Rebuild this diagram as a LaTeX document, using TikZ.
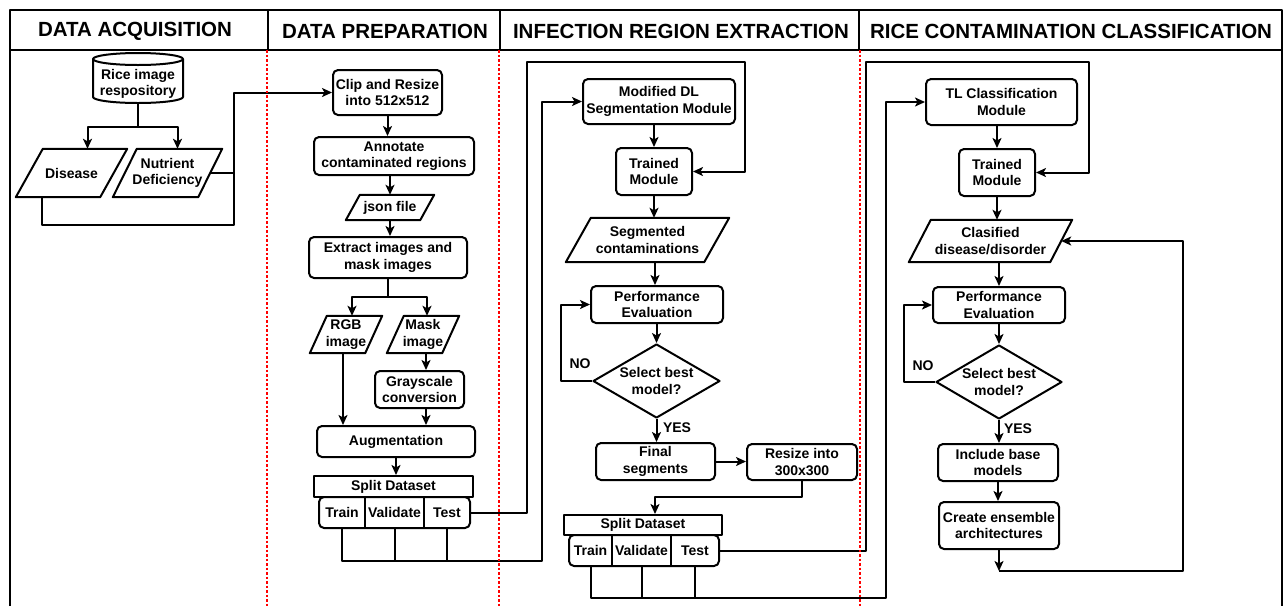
\documentclass[tikz,border=0pt]{standalone}
\usepackage{fontspec}
\setmainfont{Liberation Sans}
\usetikzlibrary{arrows.meta,shapes.geometric}
\tikzset{
 ln/.style={line width=2pt, line join=round},
 arr/.style={ln, -{Stealth[length=10pt,width=9pt,inset=2.5pt]}},
 txt/.style={font=\bfseries\fontsize{14}{16.5}\selectfont, align=center, inner sep=0pt},
 rbox/.style 2 args={txt, draw, ln, rounded corners=5pt, minimum width=#1, minimum height=#2},
 sbox/.style 2 args={txt, draw, ln, minimum width=#1, minimum height=#2},
 pbox/.style 2 args={txt, minimum width=#1, minimum height=#2},
 dbox/.style 2 args={txt, draw, ln, diamond, aspect=1.7, inner sep=-3pt, minimum width=#1, minimum height=#2},
 hdr/.style={font=\bfseries\fontsize{20.5}{24}\selectfont, inner sep=0pt},
 sepline/.style={red, line width=2.5pt, dash pattern=on 2.5pt off 2pt},
}
\newcommand\slantbox[2]{\draw[ln] ([xshift=#2pt]#1.north west) -- (#1.north east) -- ([xshift=-#2pt]#1.south east) -- (#1.south west) -- cycle;}
\begin{document}
\begin{tikzpicture}[x=1pt,y=-1pt]
\useasboundingbox (0,0) rectangle (1285,606);
% frame
\draw[ln] (10,606) -- (10,10) -- (1282,10) -- (1282,606);
\draw[ln] (10,50) -- (1282,50);
\draw[ln] (268,10) -- (268,50);
\draw[ln] (500,10) -- (500,50);
\draw[ln] (859,10) -- (859,50);
% headers
\node[hdr] (h1) at (135,31) {DATA ACQUISITION};
\node[hdr] (h2) at (385,31) {DATA PREPARATION};
\node[hdr] (h3) at (681,31) {INFECTION REGION EXTRACTION};
\node[hdr] (h4) at (1071,31) {RICE CONTAMINATION CLASSIFICATION};
% ---- Data acquisition
\node[pbox={90}{36}] (repo) at (138,84) {Rice image\\respository};
\draw[ln] (138,59) ellipse[x radius=45pt, y radius=6pt];
\draw[ln] (93,59) -- (93,97) arc[start angle=180, end angle=360, x radius=45pt, y radius=6pt] -- (183,59);
\coordinate (br1) at (138,127);
\node[pbox={111}{48}] (dis) at (71.5,173) {Disease};
\node[pbox={109}{48}] (nut) at (167.5,173) {Nutrient\\Deficiency};
\slantbox{dis}{27}
\slantbox{nut}{24}
\coordinate (j1) at (234,225);
% ---- Data preparation
\node[rbox={109}{45}] (clip) at (387.5,92.5) {Clip and Resize\\into 512x512};
\node[rbox={160}{38}] (anno) at (394,156) {Annotate\\contaminated regions};
\node[pbox={88}{25}] (json) at (390,207.5) {json file};
\slantbox{json}{14}
\node[rbox={158}{41}] (extr) at (388,257.5) {Extract images and\\mask images};
\coordinate (br2) at (388,297);
\node[pbox={72}{37}] (rgb) at (346,334.5) {RGB\\image};
\slantbox{rgb}{17}
\node[pbox={72}{37}] (mask) at (423,334.5) {Mask\\image};
\slantbox{mask}{17}
\node[rbox={89}{37}] (gray) at (419.5,389.5) {Grayscale\\conversion};
\node[rbox={158}{31}] (aug) at (396,441.5) {Augmentation};
\node[sbox={159}{21}] (sp1) at (393.5,486.5) {Split Dataset};
\node[rbox={151}{31}] (tvt1) at (394.5,512.5) {};
\node[pbox={46}{31}] (tr1) at (342,512.5) {Train};
\node[pbox={59}{31}] (va1) at (394.5,512.5) {Validate};
\node[pbox={46}{31}] (te1) at (447,512.5) {Test};
\draw[ln] (tr1.north east) -- (tr1.south east);
\draw[ln] (va1.north east) -- (va1.south east);
% ---- Infection region extraction
\node[rbox={152}{45}] (mdl) at (659,101.5) {Modified DL\\Segmentation Module};
\node[rbox={76}{47}] (trm1) at (654,171.5) {Trained\\Module};
\node[pbox={163}{44}] (seg) at (647.5,240) {Segmented\\contaminations};
\slantbox{seg}{25}
\node[rbox={132}{37}] (pe1) at (657,304.5) {Performance\\Evaluation};
\node[dbox={127}{74}] (dia1) at (656.5,381) {Select best\\model?};
\node[rbox={119}{37}] (fin) at (655.5,461.5) {Final\\segments};
\node[rbox={110}{36}] (rsz) at (802,462) {Resize into\\300x300};
\node[sbox={158}{20}] (sp2) at (643,525) {Split Dataset};
\node[rbox={150}{31}] (tvt2) at (644,550.5) {};
\node[pbox={43}{31}] (tr2) at (590.5,550.5) {Train};
\node[pbox={59}{31}] (va2) at (641.5,550.5) {Validate};
\node[pbox={48}{31}] (te2) at (695,550.5) {Test};
\draw[ln] (tr2.north east) -- (tr2.south east);
\draw[ln] (va2.north east) -- (va2.south east);
\node[txt] (no1) at (580,364) {NO};
\node[txt] (yes1) at (677,428) {YES};
\coordinate (n1) at (561,304.5);
% ---- Classification
\node[rbox={151}{46}] (tl) at (1001.5,102) {TL Classification\\Module};
\node[rbox={76}{47}] (trm2) at (997,172.5) {Trained\\Module};
\node[pbox={163}{42}] (cls) at (990.5,241) {Clasified\\disease/disorder};
\slantbox{cls}{22}
\node[rbox={132}{36}] (pe2) at (999,305) {Performance\\Evaluation};
\node[dbox={126}{74}] (dia2) at (999,382) {Select best\\model?};
\node[rbox={120}{37}] (inc) at (998,462.5) {Include base\\models};
\node[rbox={120}{47}] (ens) at (999,525.5) {Create ensemble\\architectures};
\node[txt] (no2) at (923,366) {NO};
\node[txt] (yes2) at (1018,429) {YES};
\coordinate (n2) at (904,305);
\coordinate (e1) at (999,571);
\coordinate (e2) at (1183,571);
% ---- connectors: acquisition
\draw[ln] (repo.south) -- (br1);
\draw[arr] (br1) -| ([xshift=16pt]dis.north);
\draw[arr] (br1) -| ([xshift=10pt]nut.north);
\draw[ln] ([xshift=-12pt]nut.east) -- (nut.east -| j1);
\draw[arr] ([xshift=-30pt]dis.south) |- (j1) |- (clip.west);
% ---- connectors: preparation
\draw[arr] (clip.south) -- (clip.south |- anno.north);
\draw[arr] (json.north |- anno.south) -- (json.north);
\draw[arr] (json.south) -- (json.south |- extr.north);
\draw[ln] (extr.south) -- (br2);
\draw[arr] (br2) -| ([xshift=6pt]rgb.north);
\draw[arr] (br2) -| ([xshift=4pt]mask.north);
\draw[arr] ([xshift=3pt]mask.south) -- ([xshift=3pt]mask.south |- gray.north);
\draw[arr] ([xshift=-3pt]rgb.south) -- ([xshift=-3pt]rgb.south |- aug.north);
\draw[arr] ([xshift=6.5pt]gray.south) -- ([xshift=6.5pt]gray.south |- aug.north);
\draw[arr] (aug.south) -- (aug.south |- sp1.north);
\coordinate (c1) at (542,561);
\draw[arr] (tr1.south) |- (c1) |- (mdl.west);
\draw[ln] (va1.south) -- (va1.south |- c1);
\draw[ln] (te1.south) -- (te1.south |- c1);
\coordinate (c2) at (527,62);
\coordinate (c3) at (745,62);
\draw[arr] (te1.east) -| (c2) -- (c3) |- (trm1.east);
% ---- connectors: extraction
\draw[arr] (trm1.north |- mdl.south) -- (trm1.north);
\draw[arr] (trm1.south) -- (trm1.south |- seg.north);
\draw[arr] ([xshift=7.5pt]seg.south) -- ([xshift=7.5pt]seg.south |- pe1.north);
\draw[arr] (dia1.north |- pe1.south) -- (dia1.north);
\draw[arr] (dia1.west) -| (n1) -- (pe1.west);
\draw[arr] (dia1.south) -- (dia1.south |- fin.north);
\draw[arr] (fin.east) -- (fin.east -| rsz.west);
\draw[arr] (rsz.south) -- ++(0,16) -| ([xshift=12pt]sp2.north);
\coordinate (c4) at (886,598);
\draw[arr] (tr2.south) |- (c4) |- (tl.west);
\draw[ln] (va2.south) -- (va2.south |- c4);
\draw[ln] (te2.south) -- (te2.south |- c4);
\coordinate (c5) at (866,62);
\coordinate (c6) at (1089,62);
\draw[arr] (te2.east) -| (c5) -- (c6) |- (trm2.east);
% ---- connectors: classification
\draw[arr] (trm2.north |- tl.south) -- (trm2.north);
\draw[arr] (trm2.south) -- (trm2.south |- cls.north);
\draw[arr] (pe2.north |- cls.south) -- (pe2.north);
\draw[arr] (pe2.south) -- (pe2.south |- dia2.north);
\draw[arr] (dia2.west) -| (n2) -- (pe2.west);
\draw[arr] (dia2.south) -- (dia2.south |- inc.north);
\draw[arr] (inc.south) -- (inc.south |- ens.north);
\draw[arr] (ens.south) -- (e1);
\draw[arr] (e1) -- (e2) |- ([xshift=-11pt]cls.east);
% red dotted separators
\draw[sepline] (267,50) -- (267,606);
\draw[sepline] (499,50) -- (499,606);
\draw[sepline] (860,50) -- (860,606);
\end{tikzpicture}
\end{document}
